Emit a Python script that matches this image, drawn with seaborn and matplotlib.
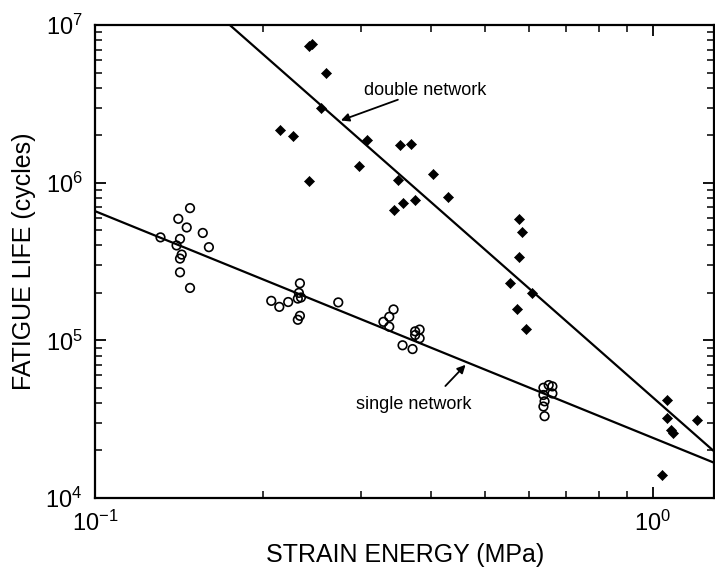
import numpy as np
import pandas as pd
import matplotlib
matplotlib.use("Agg")
import matplotlib.pyplot as plt
import seaborn as sns
from matplotlib.ticker import LogLocator, LogFormatterMathtext, NullFormatter

# single network (open circles): strain energy (MPa), fatigue life (cycles)
single_energy = [0.131, 0.141, 0.148, 0.146, 0.142, 0.140, 0.156, 0.160, 0.143, 0.142,
                 0.142, 0.148, 0.207, 0.214, 0.222, 0.233, 0.232, 0.231, 0.234, 0.231,
                 0.233, 0.273, 0.343, 0.337, 0.329, 0.337, 0.375, 0.382, 0.375, 0.382,
                 0.356, 0.371, 0.637, 0.661, 0.651, 0.637, 0.661, 0.640, 0.637, 0.640]
single_life = [4.5e5, 5.9e5, 6.9e5, 5.2e5, 4.4e5, 4.0e5, 4.8e5, 3.9e5, 3.5e5, 3.3e5,
               2.7e5, 2.15e5, 1.78e5, 1.63e5, 1.75e5, 2.3e5, 2.0e5, 1.84e5, 1.87e5, 1.35e5,
               1.43e5, 1.74e5, 1.57e5, 1.41e5, 1.31e5, 1.22e5, 1.14e5, 1.17e5, 1.08e5, 1.03e5,
               9.3e4, 8.8e4, 5.0e4, 5.1e4, 5.2e4, 4.5e4, 4.6e4, 4.1e4, 3.8e4, 3.3e4]

# double network (filled diamonds)
double_energy = [0.242, 0.245, 0.259, 0.254, 0.215, 0.226, 0.242, 0.298, 0.308, 0.353,
                 0.369, 0.349, 0.403, 0.344, 0.357, 0.375, 0.430, 0.577, 0.584, 0.577,
                 0.554, 0.607, 0.570, 0.592, 1.06, 1.06, 1.077, 1.09, 1.20, 1.038]
double_life = [7.4e6, 7.6e6, 5.0e6, 3.0e6, 2.15e6, 1.98e6, 1.03e6, 1.27e6, 1.87e6, 1.74e6,
               1.75e6, 1.04e6, 1.13e6, 6.7e5, 7.4e5, 7.8e5, 8.1e5, 5.9e5, 4.9e5, 3.4e5,
               2.3e5, 2.0e5, 1.57e5, 1.18e5, 4.2e4, 3.2e4, 2.7e4, 2.6e4, 3.1e4, 1.4e4]

# fitted lines (end points)
single_fit_energy = [0.1, 1.29]
single_fit_life = [6.6e5, 1.67e4]
double_fit_energy = [0.17, 1.29]
double_fit_life = [1.085e7, 1.97e4]

sns.set_theme(style="ticks")
plt.rcParams["font.family"] = ["Liberation Sans", "DejaVu Sans"]
plt.rcParams["mathtext.fontset"] = "custom"
plt.rcParams["mathtext.rm"] = "Liberation Sans"
plt.rcParams["mathtext.it"] = "Liberation Sans:italic"
plt.rcParams["mathtext.default"] = "regular"

single = pd.DataFrame({"energy": single_energy, "life": single_life})
double = pd.DataFrame({"energy": double_energy, "life": double_life})

fig = plt.figure(figsize=(7.15, 5.71), dpi=100)
ax = fig.add_axes([0.133, 0.128, 0.866, 0.828])
ax.set_xscale("log")
ax.set_yscale("log")

sns.lineplot(x=single_fit_energy, y=single_fit_life, ax=ax, color="black", lw=1.6, sort=False)
sns.lineplot(x=double_fit_energy, y=double_fit_life, ax=ax, color="black", lw=1.6, sort=False)
sns.scatterplot(data=single, x="energy", y="life", ax=ax, marker="o", s=38,
                facecolor="none", edgecolor="black", linewidth=1.2, zorder=3)
sns.scatterplot(data=double, x="energy", y="life", ax=ax, marker="D", s=26,
                color="black", edgecolor="black", linewidth=0.5, zorder=3)

ax.set_xlim(0.1, 1.29)
ax.set_ylim(1e4, 1e7)

ax.xaxis.set_major_locator(LogLocator(base=10))
ax.xaxis.set_minor_locator(LogLocator(base=10, subs=np.arange(2, 10)))
ax.yaxis.set_major_locator(LogLocator(base=10))
ax.yaxis.set_minor_locator(LogLocator(base=10, subs=np.arange(2, 10)))
ax.xaxis.set_major_formatter(LogFormatterMathtext())
ax.yaxis.set_major_formatter(LogFormatterMathtext())
ax.xaxis.set_minor_formatter(NullFormatter())
ax.yaxis.set_minor_formatter(NullFormatter())

ax.tick_params(which="both", direction="in", top=True, right=True, color="black",
               labelsize=17, labelcolor="black")
ax.tick_params(which="major", length=8, width=1.3, pad=9)
ax.tick_params(which="minor", length=5, width=1.1)
for sp in ax.spines.values():
    sp.set_linewidth(1.6)
    sp.set_color("black")

ax.set_xlabel("STRAIN ENERGY (MPa)", fontsize=18, color="black", labelpad=5)
ax.set_ylabel("FATIGUE LIFE (cycles)", fontsize=18, color="black", labelpad=7)

ax.text(0.303, 3.87e6, "double network", fontsize=13, ha="left", va="center", color="black")
ax.annotate("", xy=(0.273, 2.45e6), xytext=(0.353, 3.41e6),
            arrowprops=dict(arrowstyle="-|>", color="black", lw=1.3, mutation_scale=12))
ax.text(0.294, 3.89e4, "single network", fontsize=13, ha="left", va="center", color="black")
ax.annotate("", xy=(0.4655, 7.2e4), xytext=(0.4215, 4.98e4),
            arrowprops=dict(arrowstyle="-|>", color="black", lw=1.3, mutation_scale=12))

fig.savefig("out.png", dpi=100)
